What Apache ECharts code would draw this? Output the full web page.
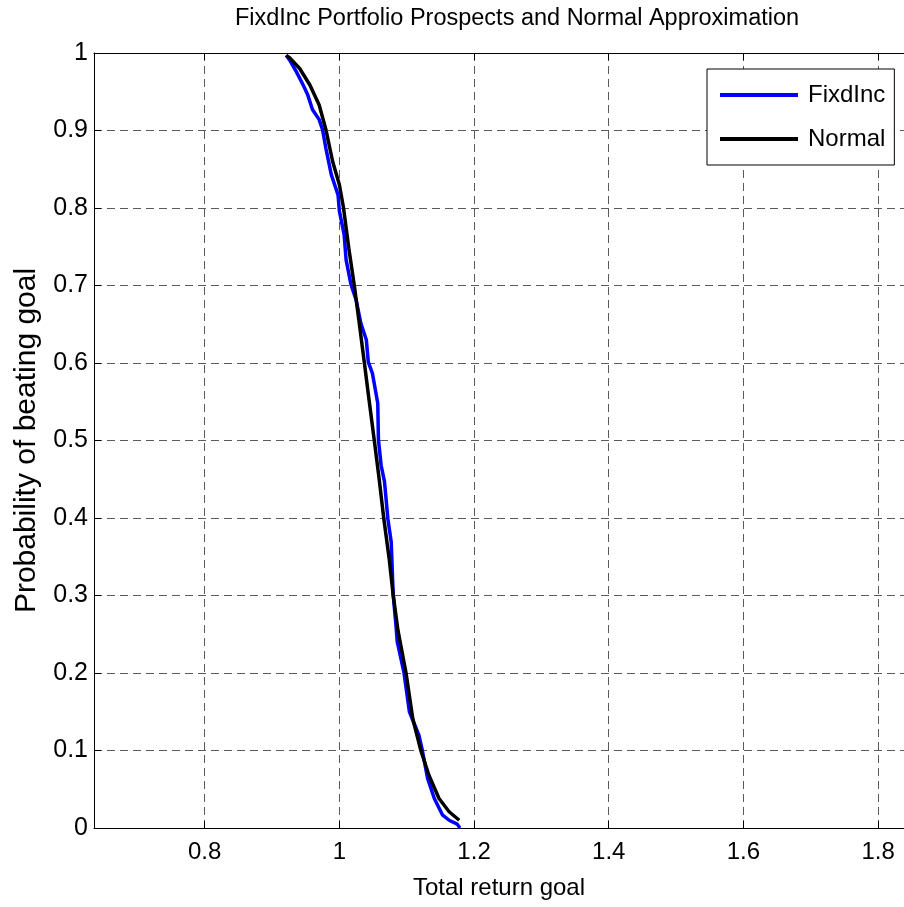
<!DOCTYPE html>
<html>
<head>
<meta charset="utf-8">
<script src="https://cdn.jsdelivr.net/npm/echarts@6/dist/echarts.min.js"></script>
<style>
  html, body { margin: 0; padding: 0; background: #fff; }
  #chart { width: 904px; height: 907px; }
</style>
</head>
<body>
<div id="chart"></div>
<script>
// values
const xTicks = [0.8, 1, 1.2, 1.4, 1.6, 1.8]

const fixdX = [0.921, 0.926, 0.936, 0.946, 0.953, 0.960, 0.970, 0.975, 0.980, 0.988, 0.998, 1.000,
  1.007, 1.010, 1.017, 1.025, 1.032, 1.040, 1.043, 1.049, 1.057, 1.058, 1.062, 1.067, 1.072,
  1.077, 1.079, 1.080, 1.084, 1.086, 1.096, 1.104, 1.118, 1.123, 1.131, 1.141, 1.153, 1.163,
  1.175, 1.179]
const fixdY = [0.997, 0.991, 0.976, 0.959, 0.946, 0.927, 0.914, 0.901, 0.877, 0.843, 0.817, 0.796,
  0.766, 0.733, 0.702, 0.681, 0.651, 0.630, 0.601, 0.587, 0.548, 0.501, 0.468, 0.447, 0.399,
  0.369, 0.322, 0.300, 0.262, 0.240, 0.200, 0.150, 0.120, 0.101, 0.064, 0.038, 0.017, 0.010,
  0.005, 0.000]

const normX = [0.921, 0.926, 0.941, 0.956, 0.970, 0.980, 0.990, 1.000, 1.006, 1.014, 1.022, 1.029,
  1.037, 1.044, 1.052, 1.059, 1.066, 1.074, 1.080, 1.087, 1.099, 1.109, 1.121, 1.133, 1.148,
  1.163, 1.178]
const normY = [0.997, 0.994, 0.980, 0.959, 0.933, 0.901, 0.860, 0.830, 0.801, 0.748, 0.701, 0.655,
  0.601, 0.553, 0.499, 0.451, 0.399, 0.347, 0.300, 0.255, 0.200, 0.141, 0.100, 0.068, 0.038,
  0.021, 0.010]

const font = "'Liberation Sans', Arial, sans-serif"
const gridLine = { show: true, lineStyle: { color: '#5a5a5a', type: [8, 5], width: 1 } }

const chart = echarts.init(document.getElementById('chart'))
chart.setOption({
  animation: false,
  backgroundColor: '#fff',
  textStyle: { fontFamily: font },
  graphic: [{
    type: 'text',
    x: 517,
    y: 19,
    style: {
      text: 'FixdInc Portfolio Prospects and Normal Approximation',
      font: '23.5px ' + font,
      fill: '#000',
      textAlign: 'center',
      textVerticalAlign: 'middle',
    },
  }],
  grid: {
    left: 94,
    top: 53,
    width: 812,
    bottom: 79,
  },
  legend: {
    orient: 'vertical',
    left: 707,
    top: 69,
    padding: [13, 9, 13, 13],
    icon: 'rect',
    itemWidth: 78,
    itemHeight: 4,
    itemGap: 18,
    borderColor: '#000',
    borderWidth: 1,
    backgroundColor: '#fff',
    textStyle: { fontFamily: font, fontSize: 24, color: '#000', padding: [0, 0, 0, 5], lineHeight: 26 },
    data: ['FixdInc', 'Normal'],
  },
  xAxis: [{
    type: 'value',
    min: 0.6356,
    max: 1.8385,
    name: 'Total return goal',
    nameLocation: 'middle',
    nameGap: 48,
    nameTextStyle: { fontFamily: font, fontSize: 24, color: '#000' },
    axisLine: { show: true, onZero: false, lineStyle: { color: '#000', width: 1 } },
    axisTick: { show: true, inside: true, length: 7, customValues: xTicks, lineStyle: { color: '#000' } },
    axisLabel: { customValues: xTicks, fontFamily: font, fontSize: 24, color: '#000', margin: 12 },
    splitLine: gridLine,
  }, {
    type: 'value',
    position: 'top',
    min: 0.6356,
    max: 1.8385,
    axisLine: { show: true, onZero: false, lineStyle: { color: '#000', width: 1 } },
    axisTick: { show: true, inside: true, length: 7, customValues: xTicks, lineStyle: { color: '#000' } },
    axisLabel: { show: false },
    splitLine: { show: false },
  }],
  yAxis: {
    type: 'value',
    min: 0,
    max: 1,
    interval: 0.1,
    name: 'Probability of beating goal',
    nameLocation: 'middle',
    nameGap: 52,
    nameTextStyle: { fontFamily: font, fontSize: 30, color: '#000' },
    axisLine: { show: true, lineStyle: { color: '#000', width: 1 } },
    axisTick: { show: true, inside: true, length: 7, lineStyle: { color: '#000' } },
    axisLabel: { fontFamily: font, fontSize: 25, color: '#000', margin: 6 },
    splitLine: gridLine,
  },
  series: [{
    name: 'FixdInc',
    type: 'line',
    symbol: 'none',
    color: '#0000ff',
    lineStyle: { color: '#0000ff', width: 3.5 },
    data: fixdX.map((x, i) => [x, fixdY[i]]),
  }, {
    name: 'Normal',
    type: 'line',
    symbol: 'none',
    color: '#000',
    lineStyle: { color: '#000', width: 3.5 },
    data: normX.map((x, i) => [x, normY[i]]),
  }],
})
</script>
</body>
</html>
